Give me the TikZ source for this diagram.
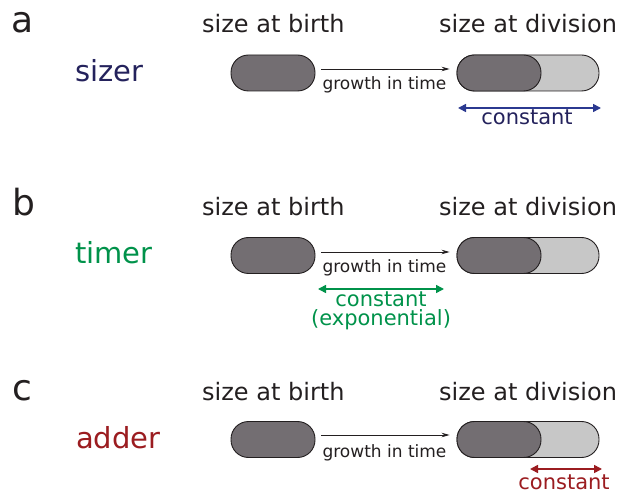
\documentclass[tikz,border=0pt]{standalone}
\usepackage{fontspec}
\setmainfont{DejaVu Sans}
\usetikzlibrary{arrows.meta}
\definecolor{pilldark}{HTML}{736E72}
\definecolor{pilllight}{HTML}{C7C7C7}
\definecolor{pillline}{HTML}{231F20}
\definecolor{textgray}{HTML}{231F20}
\definecolor{sizerblue}{HTML}{24225C}
\definecolor{arrowblue}{HTML}{2B3990}
\definecolor{timergreen}{HTML}{00924A}
\definecolor{addered}{HTML}{9B1C20}
\tikzset{
  letterlbl/.style={anchor=base, text=textgray, font=\fontsize{36}{40}\selectfont, inner sep=0pt},
  headlbl/.style={anchor=base west, text=textgray, font=\fontsize{24}{28}\selectfont, inner sep=0pt},
  modellbl/.style={anchor=base west, font=\fontsize{29}{32}\selectfont, inner sep=0pt},
  growlbl/.style={anchor=base, text=textgray, font=\fontsize{17}{20}\selectfont, inner sep=0pt},
  constlbl/.style={anchor=base, font=\fontsize{21}{24}\selectfont, inner sep=0pt},
  pill/.style={draw=pillline, line width=0.9pt, rounded corners=17.5pt, minimum height=36pt, inner sep=0pt},
  darkpill/.style={pill, fill=pilldark, minimum width=84pt},
  fullpill/.style={pill, fill=pilllight, minimum width=142pt},
  growarrow/.style={line width=0.8pt, draw=textgray, -{Stealth[length=8pt,width=4.5pt]}},
  constarrow/.style={line width=1.6pt, {Triangle[length=8pt,width=8pt]}-{Triangle[length=8pt,width=8pt]}},
}
\begin{document}
\begin{tikzpicture}[x=1pt, y=-1pt]
\useasboundingbox (0,0) rectangle (621,494);

% ---------- a: sizer ----------
\node[letterlbl] (la) at (22.5,33) {a};
\node[headlbl] (ba) at (202,33) {size at birth};
\node[headlbl] (da) at (439,33) {size at division};
\node[modellbl, text=sizerblue] (ma) at (75,82) {sizer};
\node[darkpill] (pa1) at (273,73) {};
\node[fullpill] (pa2) at (528,73) {};
\node[darkpill] (pa3) at (499,73) {};
\draw[growarrow] ([xshift=6pt]pa1.east |- 0,69) -- ([xshift=-7pt]pa2.west |- 0,69);
\node[growlbl] (ga) at (384.5,90) {growth in time};
\coordinate (ca1) at (458,108);
\coordinate (ca2) at (601,108);
\draw[constarrow, arrowblue] (ca1) -- (ca2);
\node[constlbl, text=sizerblue] (ka) at (527,125) {constant};

% ---------- b: timer ----------
\node[letterlbl] (lb) at (23.5,216) {b};
\node[headlbl] (bb) at (202,216) {size at birth};
\node[headlbl] (db) at (439,216) {size at division};
\node[modellbl, text=timergreen] (mb) at (75,264) {timer};
\node[darkpill] (pb1) at (273,255.5) {};
\node[fullpill] (pb2) at (528,255.5) {};
\node[darkpill] (pb3) at (499,255.5) {};
\draw[growarrow] ([xshift=6pt]pb1.east |- 0,252) -- ([xshift=-7pt]pb2.west |- 0,252);
\node[growlbl] (gb) at (384.5,273) {growth in time};
\coordinate (cb1) at (318,289);
\coordinate (cb2) at (444,289);
\draw[constarrow, timergreen] (cb1) -- (cb2);
\node[constlbl, text=timergreen] (kb) at (381,306.5) {constant};
\node[constlbl, text=timergreen] (kb2) at (381,325) {(exponential)};

% ---------- c: adder ----------
\node[letterlbl] (lc) at (22,400) {c};
\node[headlbl] (bc) at (202,400) {size at birth};
\node[headlbl] (dc) at (439,400) {size at division};
\node[modellbl, text=addered] (mc) at (76,448) {adder};
\node[darkpill] (pc1) at (273,439.5) {};
\node[fullpill] (pc2) at (528,439.5) {};
\node[darkpill] (pc3) at (499,439.5) {};
\draw[growarrow] ([xshift=6pt]pc1.east |- 0,435) -- ([xshift=-7pt]pc2.west |- 0,435);
\node[growlbl] (gc) at (384.5,457) {growth in time};
\coordinate (cc1) at (530,469);
\coordinate (cc2) at (602,469);
\draw[constarrow, addered] (cc1) -- (cc2);
\node[constlbl, text=addered] (kc) at (564,489.5) {constant};
\end{tikzpicture}
\end{document}
